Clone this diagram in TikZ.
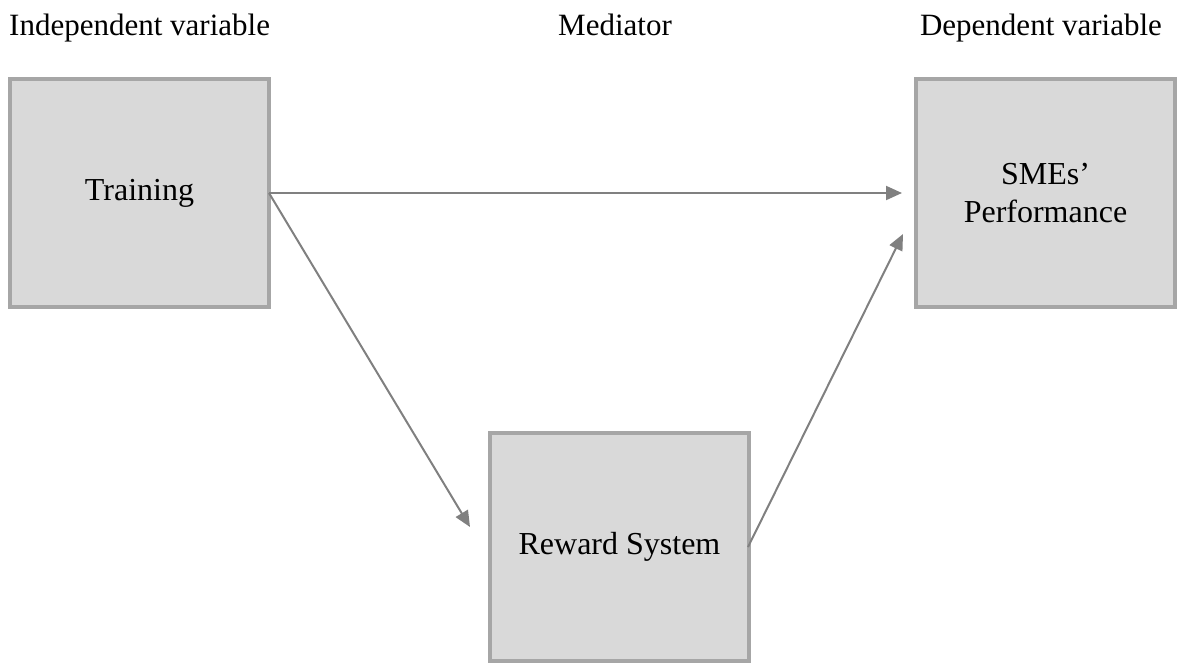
\documentclass[tikz,border=0pt]{standalone}
\usepackage{fontspec}
\setmainfont{Liberation Serif}
\usetikzlibrary{arrows.meta}
\definecolor{boxfill}{RGB}{217,217,217}
\definecolor{boxline}{RGB}{166,166,166}
\definecolor{arrowcol}{RGB}{128,128,128}
\begin{document}
\begin{tikzpicture}[x=1pt,y=-1pt,
  varbox/.style={draw=boxline,fill=boxfill,line width=4pt,minimum width=259pt,minimum height=228pt,
    inner sep=0pt,outer sep=0pt,align=center,font=\fontsize{32}{38}\selectfont},
  header/.style={inner sep=0pt,font=\fontsize{31}{36}\selectfont},
  link/.style={draw=arrowcol,line width=2pt,-{Triangle[length=16pt,width=14pt]}}]
\useasboundingbox (0,0) rectangle (1177,662);
\clip (0,0) rectangle (1177,662);
\node[header,anchor=base west] (hiv) at (9,35) {Independent variable};
\node[header,anchor=base] (hmed) at (615,35) {Mediator};
\node[header,anchor=base] (hdv) at (1041,35) {Dependent variable};
\node[varbox] (train) at (139.5,193) {Training};
\node[varbox] (perf) at (1045.5,193) {SMEs'\\Performance};
\node[varbox] (reward) at (619.5,547) {Reward System};
\coordinate (tipA) at (902,193);
\coordinate (tipB) at (470,527);
\coordinate (tipC) at (903,234);
\coordinate (startC) at (748,547);
\draw[link] (train.east) -- (tipA);
\draw[link] (train.east) -- (tipB);
\draw[link] (startC) -- (tipC);
\end{tikzpicture}
\end{document}
